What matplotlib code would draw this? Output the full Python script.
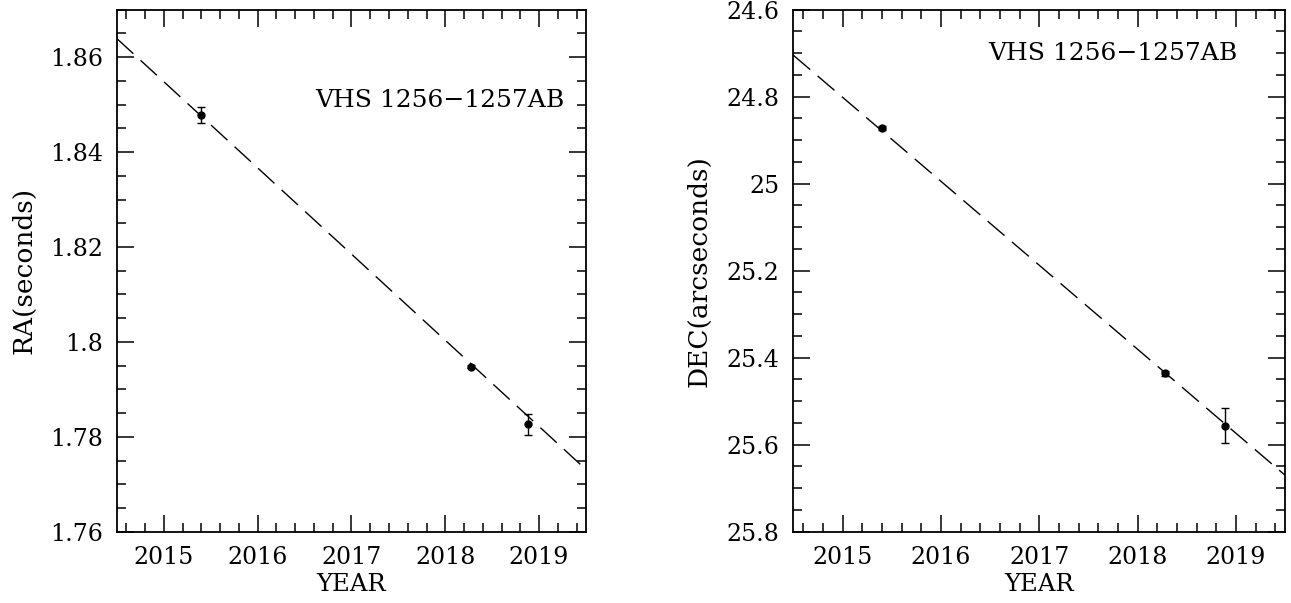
import numpy as np
import matplotlib
matplotlib.use("Agg")
import matplotlib.pyplot as plt
from matplotlib.ticker import MultipleLocator, FuncFormatter

# epochs of the three measurements
years = [2015.40, 2018.275, 2018.885]

ra_sec = [1.8478, 1.7948, 1.7826]
ra_err = [0.0016, 0.0003, 0.0022]
ra_fit_x = [2014.5, 2019.5]
ra_fit_y = [1.8639, 1.7731]

dec_arcsec = [24.8718, 25.4354, 25.556]
dec_err = [0.004, 0.006, 0.0395]
dec_fit_x = [2014.5, 2019.5]
dec_fit_y = [24.7046, 25.6706]

label = "VHS 1256\u22121257AB"

plt.rcParams['font.family'] = ['DejaVu Serif']


def fmt(v, pos):
    return f"{round(v, 6):g}"


def style_axes(ax, ymaj, ymin):
    ax.set_xlim(2014.5, 2019.5)
    ax.xaxis.set_major_locator(MultipleLocator(1))
    ax.xaxis.set_minor_locator(MultipleLocator(0.2))
    ax.yaxis.set_major_locator(MultipleLocator(ymaj))
    ax.yaxis.set_minor_locator(MultipleLocator(ymin))
    ax.yaxis.set_major_formatter(FuncFormatter(fmt))
    ax.tick_params(which='both', direction='in', top=True, right=True,
                   width=1.1, labelsize=17, pad=10)
    ax.tick_params(which='major', length=12.5)
    ax.tick_params(which='minor', length=6.5)
    for s in ax.spines.values():
        s.set_linewidth(1.3)
    ax.set_xlabel("YEAR", fontsize=17.5, labelpad=3)


fig = plt.figure(figsize=(12.91, 6.03), dpi=100)
ax1 = fig.add_axes([0.0906, 0.1182, 0.3633, 0.8657])
ax2 = fig.add_axes([0.6145, 0.1182, 0.3811, 0.8657])

# RA panel
ax1.plot(ra_fit_x, ra_fit_y, color='black', lw=1.0, dashes=(16, 7))
ax1.errorbar(years, ra_sec, yerr=ra_err, fmt='o', color='black',
             ms=5, capsize=3, elinewidth=1, capthick=1)
ax1.set_ylim(1.76, 1.87)
style_axes(ax1, 0.02, 0.005)
ax1.set_ylabel("RA(seconds)", fontsize=19, labelpad=10)
ax1.text(0.422, 0.827, label, transform=ax1.transAxes, fontsize=18,
         va='center', ha='left')

# DEC panel (inverted)
ax2.plot(dec_fit_x, dec_fit_y, color='black', lw=1.0, dashes=(16, 7))
ax2.errorbar(years, dec_arcsec, yerr=dec_err, fmt='o', color='black',
             ms=5, capsize=3, elinewidth=1, capthick=1)
ax2.set_ylim(25.8, 24.6)
style_axes(ax2, 0.2, 0.05)
ax2.set_ylabel("DEC(arcseconds)", fontsize=19, labelpad=11)
ax2.text(0.396, 0.916, label, transform=ax2.transAxes, fontsize=18,
         va='center', ha='left')

fig.savefig("out.png", dpi=100)
